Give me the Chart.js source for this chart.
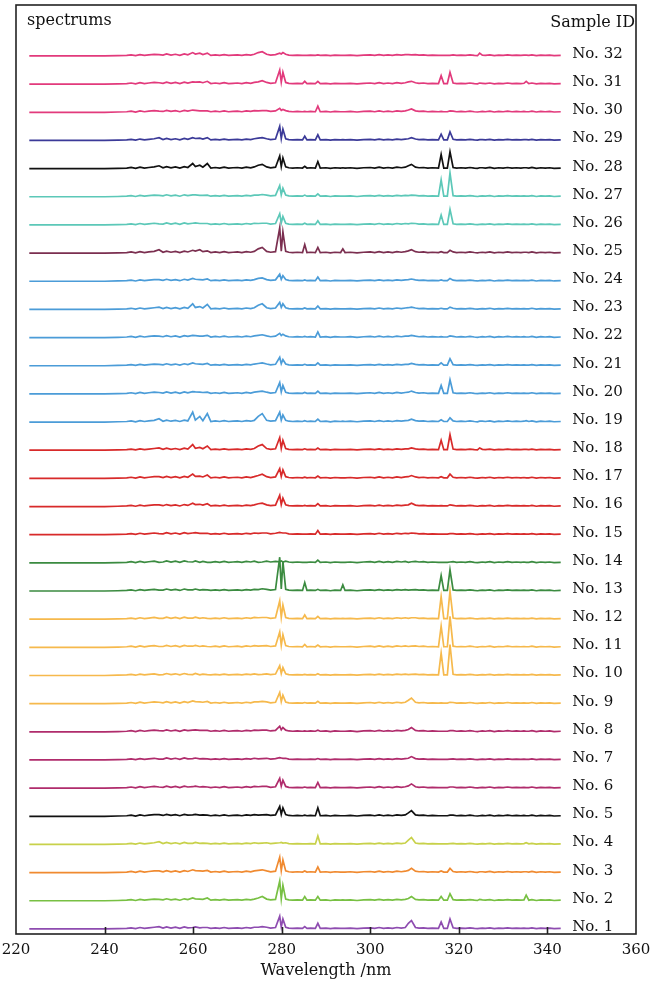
<!DOCTYPE html>
<html>
<head>
<meta charset="utf-8">
<script src="https://cdn.jsdelivr.net/npm/chart.js@4.4.1/dist/chart.umd.min.js"></script>
<style>
html,body{margin:0;padding:0;background:#fff;}
#wrap{width:652px;height:983px;position:relative;}
</style>
</head>
<body>
<div id="wrap"><canvas id="c" width="652" height="983"></canvas></div>
<script>
// ---------- DATA ----------
const sampleIds = ['No. 1','No. 2','No. 3','No. 4','No. 5','No. 6','No. 7','No. 8','No. 9','No. 10',
  'No. 11','No. 12','No. 13','No. 14','No. 15','No. 16','No. 17','No. 18','No. 19','No. 20',
  'No. 21','No. 22','No. 23','No. 24','No. 25','No. 26','No. 27','No. 28','No. 29','No. 30','No. 31','No. 32'];
const xTicks = [220, 240, 260, 280, 300, 320, 340, 360];

// background (continuum) sampling wavelengths and small texture values (shared)
const backgroundWl = [223, 240, 243, 245, 246, 247, 248, 249, 250, 251.2, 253.2, 254, 255, 256, 257, 258, 258.8, 260.5, 262.2,
  264, 265, 266, 267, 268, 269, 270, 271, 272, 273, 273.8, 276.6, 277.5, 278.6, 279.9, 280.9, 281.6, 282.5, 283.5, 284.7,
  285.7, 286.5, 287.6, 288.7, 290, 291, 292, 293.3, 294.3, 295.5, 297, 298.5, 300, 301, 302, 303, 304, 305, 306, 307,
  307.9, 310.2, 311, 312, 313, 314, 315.4, 316.6, 317.4, 318.7, 319.5, 320.5, 321.5, 322.5, 323.5, 324.2, 325.3, 326,
  327, 328, 329, 330, 331, 332, 333, 334, 334.7, 335.8, 336.5, 337.5, 338.5, 339.5, 340.5, 341.5, 343];
const backgroundLevel = [0, 0, 0.01, 0.02, 0.04, 0.01, 0.05, 0.02, 0.04, 0.06, 0.03, 0.07, 0.03, 0.06, 0.02, 0.07, 0.04, 0.07, 0.05,
  0.02, 0.04, 0.02, 0.05, 0.02, 0.03, 0.04, 0.02, 0.05, 0.03, 0.06, 0.06, 0.03, 0.05, 0.07, 0.06, 0.03, 0.02, 0.03, 0.02,
  0.02, 0.03, 0.02, 0.02, 0.03, 0.01, 0.03, 0.02, 0.02, 0.03, 0.01, 0.03, 0.04, 0.02, 0.05, 0.02, 0.04, 0.02, 0.05, 0.03,
  0.05, 0.05, 0.03, 0.04, 0.02, 0.03, 0.02, 0.02, 0.02, 0.04, 0.02, 0.03, 0.02, 0.04, 0.02, 0.01, 0.03, 0.02,
  0.04, 0.01, 0.03, 0.02, 0.04, 0.02, 0.03, 0.02, 0.03, 0.02, 0.04, 0.01, 0.03, 0.02, 0.03, 0.01, 0.02, 0];

// emission line wavelengths (nm)
const lineWl = [252.3, 259.9, 261.5, 263.2, 274.7, 275.6, 279.55, 280.27, 285.2, 288.16, 293.8, 308.6, 309.3, 316.0, 318.0, 324.7, 335.2];

// line heights per sample (in units of the vertical offset between spectra)
const no1  = [0.08,0.05,0.04,0.05,0.06,0.08,0.45,0.35,0.08,0.20,0.02,0.20,0.30,0.25,0.35,0.02,0.02];
const no2  = [0.05,0.10,0.06,0.10,0.10,0.15,0.70,0.55,0.15,0.15,0.03,0.08,0.15,0.15,0.25,0.05,0.20];
const no3  = [0.06,0.10,0.06,0.08,0.08,0.10,0.55,0.45,0.06,0.20,0.02,0.08,0.15,0.06,0.15,0.03,0.03];
const no4  = [0.10,0.04,0.04,0.04,0.04,0.05,0.06,0.05,0.02,0.30,0.02,0.15,0.25,0.02,0.03,0.02,0.06];
const no5  = [0.06,0.05,0.04,0.04,0.04,0.05,0.35,0.30,0.04,0.30,0.02,0.12,0.20,0.02,0.04,0.02,0.02];
const no6  = [0.04,0.05,0.04,0.04,0.05,0.06,0.35,0.28,0.04,0.20,0.02,0.08,0.15,0.02,0.04,0.02,0.02];
const no7  = [0.03,0.05,0.04,0.04,0.04,0.05,0.08,0.06,0.02,0.05,0.02,0.06,0.12,0.02,0.03,0.02,0.02];
const no8  = [0.04,0.06,0.05,0.05,0.05,0.06,0.20,0.15,0.03,0.06,0.02,0.08,0.15,0.02,0.04,0.02,0.02];
const no9  = [0.05,0.10,0.06,0.08,0.06,0.08,0.40,0.30,0.04,0.08,0.02,0.12,0.20,0.03,0.05,0.02,0.02];
const no10 = [0.02,0.03,0.02,0.03,0.03,0.04,0.35,0.28,0.04,0.06,0.02,0.03,0.04,0.80,1.10,0.02,0.02];
const no11 = [0.03,0.04,0.03,0.03,0.04,0.05,0.55,0.45,0.10,0.08,0.02,0.03,0.04,0.75,1.10,0.02,0.02];
const no12 = [0.03,0.04,0.03,0.03,0.05,0.06,0.65,0.50,0.15,0.10,0.03,0.03,0.05,0.80,1.00,0.02,0.02];
const no13 = [0.03,0.04,0.03,0.04,0.05,0.08,1.20,1.05,0.30,0.06,0.22,0.03,0.04,0.55,0.75,0.02,0.02];
const no14 = [0.02,0.03,0.02,0.02,0.02,0.03,0.04,0.03,0.02,0.10,0.02,0.02,0.04,0.02,0.03,0.02,0.02];
const no15 = [0.04,0.06,0.05,0.05,0.05,0.06,0.08,0.06,0.02,0.15,0.02,0.04,0.06,0.02,0.04,0.02,0.02];
const no16 = [0.06,0.12,0.08,0.10,0.10,0.12,0.40,0.30,0.04,0.10,0.02,0.06,0.12,0.03,0.06,0.02,0.02];
const no17 = [0.06,0.15,0.08,0.12,0.10,0.15,0.35,0.30,0.04,0.08,0.02,0.06,0.10,0.06,0.15,0.02,0.02];
const no18 = [0.08,0.20,0.10,0.15,0.15,0.20,0.45,0.35,0.05,0.08,0.02,0.05,0.08,0.35,0.55,0.08,0.03];
const no19 = [0.12,0.35,0.20,0.30,0.20,0.30,0.35,0.25,0.05,0.10,0.03,0.06,0.10,0.08,0.15,0.03,0.05];
const no20 = [0.05,0.08,0.06,0.06,0.08,0.10,0.40,0.30,0.05,0.10,0.02,0.06,0.10,0.30,0.50,0.02,0.02];
const no21 = [0.05,0.10,0.06,0.08,0.08,0.10,0.30,0.22,0.05,0.10,0.02,0.05,0.08,0.10,0.25,0.02,0.02];
const no22 = [0.05,0.08,0.05,0.08,0.08,0.10,0.15,0.12,0.04,0.20,0.02,0.05,0.08,0.03,0.06,0.02,0.02];
const no23 = [0.08,0.20,0.10,0.18,0.15,0.20,0.25,0.20,0.05,0.12,0.02,0.06,0.08,0.04,0.08,0.02,0.02];
const no24 = [0.06,0.10,0.06,0.08,0.10,0.12,0.25,0.20,0.05,0.15,0.02,0.06,0.08,0.05,0.10,0.02,0.02];
const no25 = [0.12,0.10,0.12,0.08,0.15,0.20,0.90,0.75,0.30,0.20,0.15,0.08,0.12,0.05,0.10,0.02,0.03];
const no26 = [0.04,0.06,0.05,0.05,0.05,0.06,0.40,0.30,0.06,0.15,0.02,0.04,0.06,0.35,0.55,0.02,0.02];
const no27 = [0.05,0.07,0.05,0.06,0.06,0.08,0.40,0.30,0.06,0.10,0.02,0.04,0.06,0.60,0.85,0.02,0.02];
const no28 = [0.10,0.18,0.12,0.18,0.12,0.15,0.45,0.38,0.08,0.25,0.03,0.10,0.15,0.50,0.60,0.03,0.03];
const no29 = [0.10,0.10,0.08,0.10,0.08,0.10,0.50,0.40,0.15,0.20,0.03,0.06,0.10,0.22,0.30,0.03,0.03];
const no30 = [0.04,0.08,0.05,0.05,0.05,0.06,0.14,0.10,0.03,0.22,0.02,0.08,0.12,0.03,0.05,0.02,0.02];
const no31 = [0.05,0.08,0.08,0.10,0.08,0.12,0.50,0.42,0.10,0.10,0.02,0.08,0.10,0.30,0.42,0.04,0.10];
const no32 = [0.05,0.12,0.10,0.10,0.12,0.15,0.10,0.12,0.02,0.04,0.02,0.05,0.04,0.02,0.02,0.10,0.03];

const sampleLines = [no1,no2,no3,no4,no5,no6,no7,no8,no9,no10,no11,no12,no13,no14,no15,no16,
  no17,no18,no19,no20,no21,no22,no23,no24,no25,no26,no27,no28,no29,no30,no31,no32];

// ---------- STYLE ----------
const sampleColors = ['#8e4cb0','#78c043','#f08a30','#c8d14a','#111111','#b02c6c','#b02c6c','#b02c6c',
  '#f6b94c','#f6b94c','#f6b94c','#f6b94c','#3b8b40','#3b8b40','#d82a2a','#d82a2a','#d82a2a','#d82a2a',
  '#4b9cd8','#4b9cd8','#4b9cd8','#4b9cd8','#4b9cd8','#4b9cd8','#7b2f50','#5cc8b8','#5cc8b8','#111111',
  '#3b3a98','#e23a7c','#e23a7c','#e23a7c'];
const FONT = '"DejaVu Serif", serif';
const labelWl = 345.6;

// ---------- BUILD ----------
const datasets = sampleLines.map((heights, i) => {
  const pts = [];
  backgroundWl.forEach((w, k) => pts.push({x: w, y: i + backgroundLevel[k]}));
  lineWl.forEach((w, k) => pts.push({x: w, y: i + heights[k]}));
  pts.sort((a, b) => a.x - b.x);
  return {
    label: sampleIds[i],
    data: pts,
    borderColor: sampleColors[i],
    borderWidth: 1.7,
    pointRadius: 0,
    tension: 0,
    fill: false
  };
});

const overlay = {
  id: 'overlay',
  afterDraw(chart) {
    const {ctx, chartArea: a, scales: {x, y}} = chart;
    ctx.save();
    ctx.strokeStyle = '#222';
    ctx.lineWidth = 1.6;
    ctx.strokeRect(a.left, a.top, a.right - a.left, a.bottom - a.top);
    xTicks.forEach(v => {
      if (v > x.min && v < x.max) {
        const px = Math.round(x.getPixelForValue(v)) + 0.5;
        ctx.beginPath();
        ctx.moveTo(px, a.bottom);
        ctx.lineTo(px, a.bottom - 7);
        ctx.stroke();
      }
    });
    ctx.fillStyle = '#111';
    ctx.font = '15px ' + FONT;
    ctx.textBaseline = 'middle';
    ctx.textAlign = 'left';
    sampleIds.forEach((s, i) => {
      ctx.fillText(s, x.getPixelForValue(labelWl), y.getPixelForValue(i) - 2);
    });
    ctx.font = '16px ' + FONT;
    ctx.fillText('spectrums', a.left + 11, a.top + 16);
    ctx.textAlign = 'right';
    ctx.fillText('Sample ID', a.right - 1, a.top + 18);
    ctx.restore();
  }
};

Chart.defaults.font.family = FONT;
Chart.defaults.color = '#111';

new Chart(document.getElementById('c'), {
  type: 'line',
  data: {datasets},
  options: {
    responsive: false,
    animation: false,
    events: [],
    layout: {padding: {left: 16, right: 16, top: 5, bottom: 3}},
    plugins: {legend: {display: false}, tooltip: {enabled: false}},
    scales: {
      x: {
        type: 'linear',
        min: 220, max: 360,
        afterBuildTicks: s => { s.ticks = xTicks.map(v => ({value: v})); },
        afterFit: s => { s.paddingLeft = 0; s.paddingRight = 0; s.paddingTop = 0; s.paddingBottom = 0; s.height = 46; },
        grid: {display: false, drawTicks: false, tickLength: 0},
        border: {display: false},
        ticks: {font: {size: 15, family: FONT}, color: '#111', padding: 7, maxRotation: 0, autoSkip: false},
        title: {display: true, text: 'Wavelength /nm', font: {size: 16, family: FONT}, color: '#111', padding: {top: 0, bottom: 0}}
      },
      y: {
        type: 'linear',
        display: false,
        min: -0.18, max: 32.81
      }
    }
  },
  plugins: [overlay]
});
</script>
</body>
</html>
